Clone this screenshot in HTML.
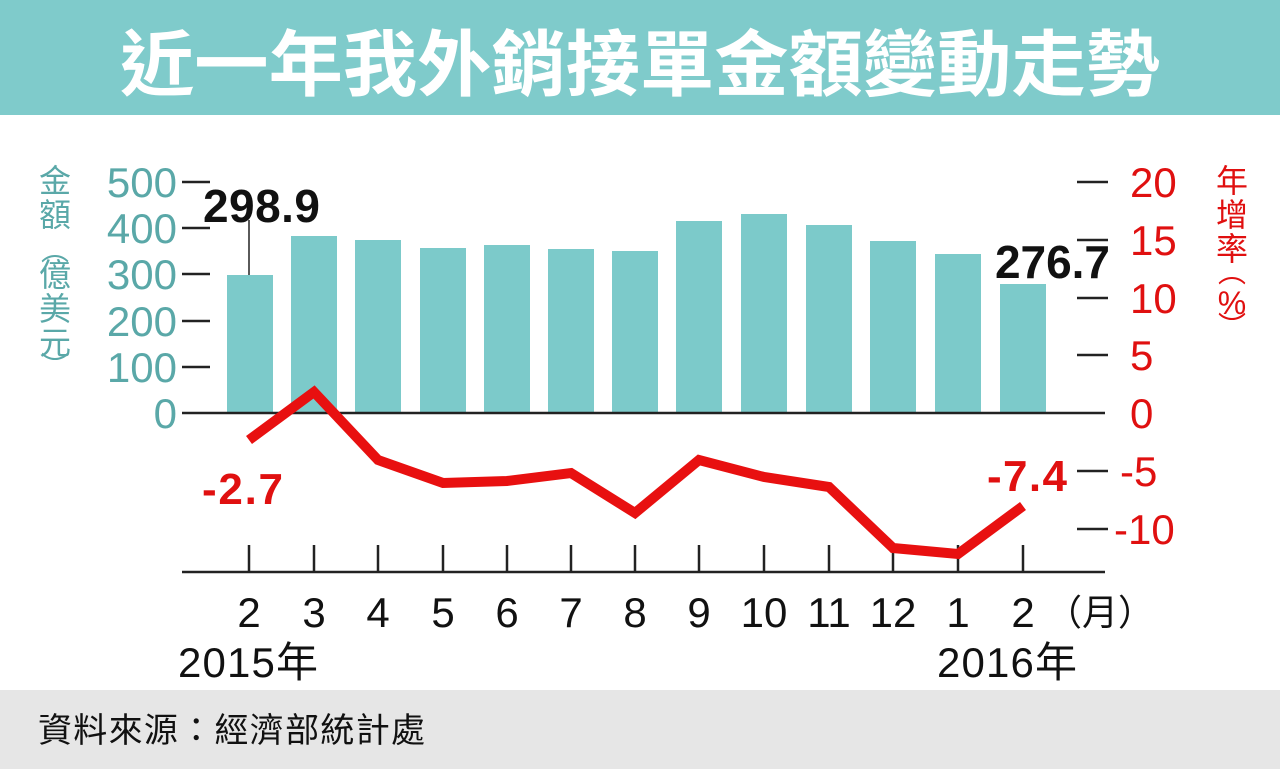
<!DOCTYPE html>
<html><head><meta charset="utf-8"><style>
body{margin:0;width:1280px;height:769px;background:#fff;overflow:hidden;font-family:"Liberation Sans","Noto Sans CJK TC",sans-serif}
</style></head><body>
<svg width="1280" height="769" viewBox="0 0 1280 769" xmlns="http://www.w3.org/2000/svg" font-family="Liberation Sans, Noto Sans CJK TC, sans-serif">
<rect x="0" y="0" width="1280" height="115" fill="#7fcbcb"/>
<text x="640" y="90" text-anchor="middle" font-size="72" font-weight="bold" fill="#fff" font-family="Noto Sans CJK TC, sans-serif" textLength="1040" lengthAdjust="spacingAndGlyphs">近一年我外銷接單金額變動走勢</text>
<rect x="0" y="690" width="1280" height="79" fill="#e6e6e6"/>
<text x="38" y="742" font-size="34" fill="#111" font-family="Noto Sans CJK TC, sans-serif" textLength="387">資料來源：經濟部統計處</text>
<g fill="#7ccaca">
<rect x="227" y="275" width="46" height="138"/>
<rect x="291" y="236" width="46" height="177"/>
<rect x="355" y="240" width="46" height="173"/>
<rect x="420" y="248" width="46" height="165"/>
<rect x="484" y="245" width="46" height="168"/>
<rect x="548" y="249" width="46" height="164"/>
<rect x="612" y="251" width="46" height="162"/>
<rect x="676" y="221" width="46" height="192"/>
<rect x="741" y="214" width="46" height="199"/>
<rect x="806" y="225" width="46" height="188"/>
<rect x="870" y="241" width="46" height="172"/>
<rect x="935" y="254" width="46" height="159"/>
<rect x="1000" y="284" width="46" height="129"/>
</g>
<g stroke="#222" stroke-width="2.5">
<line x1="182" y1="182" x2="210" y2="182"/><line x1="182" y1="228" x2="210" y2="228"/><line x1="182" y1="274" x2="210" y2="274"/><line x1="182" y1="321" x2="210" y2="321"/><line x1="182" y1="367" x2="210" y2="367"/>
<line x1="182" y1="413" x2="1105" y2="413"/>
<line x1="1077" y1="182" x2="1108" y2="182"/><line x1="1077" y1="240" x2="1108" y2="240"/><line x1="1077" y1="298" x2="1108" y2="298"/><line x1="1077" y1="355" x2="1108" y2="355"/><line x1="1077" y1="471" x2="1108" y2="471"/><line x1="1077" y1="529" x2="1108" y2="529"/>
<line x1="182" y1="572" x2="1105" y2="572"/>
<line x1="249" y1="545" x2="249" y2="572"/><line x1="314" y1="545" x2="314" y2="572"/><line x1="378" y1="545" x2="378" y2="572"/><line x1="443" y1="545" x2="443" y2="572"/><line x1="507" y1="545" x2="507" y2="572"/><line x1="571" y1="545" x2="571" y2="572"/><line x1="635" y1="545" x2="635" y2="572"/><line x1="699" y1="545" x2="699" y2="572"/><line x1="764" y1="545" x2="764" y2="572"/><line x1="829" y1="545" x2="829" y2="572"/><line x1="893" y1="545" x2="893" y2="572"/><line x1="958" y1="545" x2="958" y2="572"/><line x1="1023" y1="545" x2="1023" y2="572"/>
<line x1="249" y1="220" x2="249" y2="275" stroke-width="1.5"/>
</g>
<g font-size="42" fill="#5aa8a8" text-anchor="end">
<text x="177" y="197">500</text><text x="177" y="243">400</text><text x="177" y="289">300</text><text x="177" y="336">200</text><text x="177" y="382">100</text><text x="177" y="428">0</text>
</g>
<g font-size="42" fill="#e01010" text-anchor="start">
<text x="1130" y="197">20</text><text x="1130" y="255">15</text><text x="1130" y="313">10</text><text x="1130" y="370">5</text><text x="1130" y="428">0</text><text x="1120" y="486">-5</text><text x="1114" y="544">-10</text>
</g>
<g font-size="32" fill="#5aa8a8" font-family="Noto Sans CJK TC, sans-serif" text-anchor="middle">
<text x="55" y="192">金</text><text x="55" y="226">額</text><text x="55" y="260" font-size="28">︵</text><text x="55" y="286">億</text><text x="55" y="320">美</text><text x="55" y="354">元</text><text x="55" y="376" font-size="28">︶</text>
</g>
<g font-size="32" fill="#e01010" font-family="Noto Sans CJK TC, sans-serif" text-anchor="middle">
<text x="1232" y="192">年</text><text x="1232" y="226">增</text><text x="1232" y="260">率</text><text x="1232" y="282" font-size="28">︵</text><text x="1232" y="314" font-family="Liberation Sans, sans-serif">%</text><text x="1232" y="336" font-size="28">︶</text>
</g>
<polyline points="249,440 314,392 378,460 443,483 507,481 571,473 635,513 699,460 764,477 829,487 893,548 958,554 1023,506" fill="none" stroke="#e81010" stroke-width="10" stroke-linejoin="miter"/>
<text x="203" y="222" font-size="46" font-weight="bold" fill="#111" textLength="117">298.9</text>
<text x="995" y="278" font-size="46" font-weight="bold" fill="#111" textLength="115">276.7</text>
<text x="202" y="504" font-size="44" font-weight="bold" fill="#e01010" textLength="81">-2.7</text>
<text x="987" y="491" font-size="44" font-weight="bold" fill="#e01010" textLength="80">-7.4</text>
<g font-size="42" fill="#111" text-anchor="middle">
<text x="249" y="627">2</text><text x="314" y="627">3</text><text x="378" y="627">4</text><text x="443" y="627">5</text><text x="507" y="627">6</text><text x="571" y="627">7</text><text x="635" y="627">8</text><text x="699" y="627">9</text><text x="764" y="627">10</text><text x="829" y="627">11</text><text x="893" y="627">12</text><text x="958" y="627">1</text><text x="1023" y="627">2</text>
</g>
<text x="1046" y="625" font-size="36" fill="#111" font-family="Noto Sans CJK TC, sans-serif">（月）</text>
<text x="178" y="677" font-size="42" fill="#111" textLength="140">2015年</text>
<text x="937" y="677" font-size="42" fill="#111" textLength="140">2016年</text>
</svg>
</body></html>
